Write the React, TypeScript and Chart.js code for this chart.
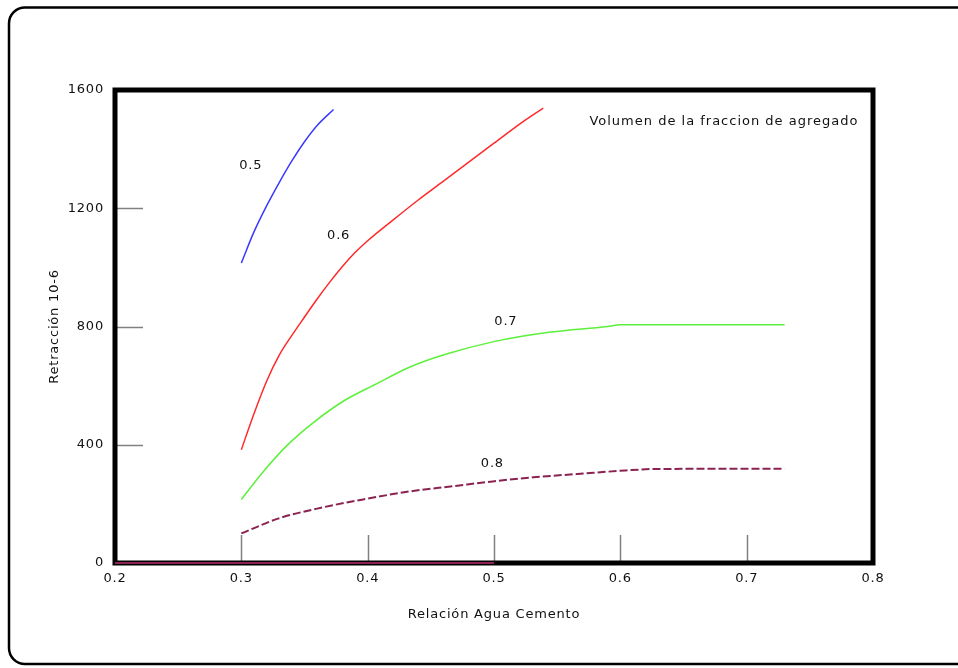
import React, { useEffect, useRef } from "react";
import { Chart, registerables } from "chart.js";

Chart.register(...registerables);

// ---- data ----
const xTicksMin = 0.2;
const xTicksMax = 0.8;
const yTicksMin = 0;
const yTicksMax = 1600;

const x05 = [0.3, 0.31, 0.32, 0.33, 0.34, 0.35, 0.36, 0.373];
const y05 = [1015, 1120, 1208, 1287, 1360, 1425, 1480, 1534];

const x06 = [0.3, 0.31, 0.32, 0.33, 0.34, 0.35, 0.36, 0.37, 0.38, 0.39, 0.4, 0.42, 0.44, 0.46, 0.48, 0.5, 0.52, 0.539];
const y06 = [383, 505, 615, 703, 770, 832, 893, 950, 1003, 1050, 1090, 1160, 1228, 1292, 1356, 1420, 1484, 1539];

const x07 = [0.3, 0.317, 0.336, 0.357, 0.381, 0.406, 0.433, 0.461, 0.499, 0.545, 0.59, 0.6, 0.73];
const y07 = [215, 307, 397, 475, 548, 604, 662, 705, 748, 781, 800, 806, 806];

const x08 = [0.3, 0.329, 0.36, 0.399, 0.433, 0.468, 0.499, 0.531, 0.566, 0.604, 0.628, 0.73];
const y08 = [100, 150, 184, 217, 242, 260, 276, 290, 301, 313, 318, 319];

const xBase = [0.2, 0.5];
const yBase = [0, 0];

const curveLabels = ["0.5", "0.6", "0.7", "0.8"];
const curveLabelX = [0.3074, 0.377, 0.5094, 0.4987];
const curveLabelY = [1344, 1108, 815, 335];

const noteText = "Volumen de la fraccion de agregado";
const noteX = 0.682;
const noteY = 1492;

const xTitle = "Relación Agua Cemento";
const yTitle = "Retracción 10-6";

const innerTicksX = [0.3, 0.4, 0.5, 0.6, 0.7];
const innerTicksY = [400, 800, 1200];

const pts = (xs: number[], ys: number[]) => xs.map((x, i) => ({ x, y: ys[i] }));

const FONT = "'DejaVu Sans', sans-serif";
const TEXT = "#111";

const framePlugin = {
  id: "frame",
  beforeDraw(chart: any) {
    const ctx = chart.ctx;
    ctx.letterSpacing = "0.8px";
    ctx.save();
    ctx.strokeStyle = "#000";
    ctx.lineWidth = 2.5;
    const x0 = 9, y0 = 7.5, x1 = 972, y1 = 664, r = 16;
    ctx.beginPath();
    ctx.moveTo(x0 + r, y0);
    ctx.lineTo(x1 - r, y0);
    ctx.arcTo(x1, y0, x1, y0 + r, r);
    ctx.lineTo(x1, y1 - r);
    ctx.arcTo(x1, y1, x1 - r, y1, r);
    ctx.lineTo(x0 + r, y1);
    ctx.arcTo(x0, y1, x0, y1 - r, r);
    ctx.lineTo(x0, y0 + r);
    ctx.arcTo(x0, y0, x0 + r, y0, r);
    ctx.closePath();
    ctx.stroke();
    ctx.restore();
  },
  beforeDatasetsDraw(chart: any) {
    const ctx = chart.ctx;
    const { left, right, top, bottom } = chart.chartArea;
    const xs = chart.scales.x;
    const ys = chart.scales.y;
    ctx.save();
    ctx.strokeStyle = "#808080";
    ctx.lineWidth = 1.5;
    innerTicksX.forEach((v) => {
      const px = Math.round(xs.getPixelForValue(v)) + 0.5;
      ctx.beginPath();
      ctx.moveTo(px, bottom);
      ctx.lineTo(px, bottom - 28);
      ctx.stroke();
    });
    innerTicksY.forEach((v) => {
      const py = Math.round(ys.getPixelForValue(v)) + 0.5;
      ctx.beginPath();
      ctx.moveTo(left, py);
      ctx.lineTo(left + 28, py);
      ctx.stroke();
    });
    ctx.strokeStyle = "#000";
    ctx.lineWidth = 5;
    ctx.strokeRect(left, top, right - left, bottom - top);
    ctx.restore();
  },
  afterDatasetsDraw(chart: any) {
    const ctx = chart.ctx;
    const xs = chart.scales.x;
    const ys = chart.scales.y;
    ctx.save();
    ctx.letterSpacing = "0.8px";
    ctx.fillStyle = TEXT;
    ctx.font = `13px ${FONT}`;
    ctx.textAlign = "center";
    ctx.textBaseline = "middle";
    curveLabels.forEach((t, i) => {
      ctx.fillText(t, xs.getPixelForValue(curveLabelX[i]), ys.getPixelForValue(curveLabelY[i]));
    });
    ctx.letterSpacing = "1px";
    ctx.fillText(noteText, xs.getPixelForValue(noteX), ys.getPixelForValue(noteY));
    ctx.restore();
  },
};

export default function App() {
  const ref = useRef<HTMLCanvasElement>(null);
  useEffect(() => {
    const canvas = ref.current!;
    const chart = new Chart(canvas, {
      type: "line",
      data: {
        datasets: [
          {
            label: "0.5",
            data: pts(x05, y05),
            borderColor: "#3a3aff",
            borderWidth: 1.5,
            pointRadius: 0,
            cubicInterpolationMode: "monotone",
          },
          {
            label: "0.6",
            data: pts(x06, y06),
            borderColor: "#ff2a2a",
            borderWidth: 1.5,
            pointRadius: 0,
            cubicInterpolationMode: "monotone",
          },
          {
            label: "0.7",
            data: pts(x07, y07),
            borderColor: "#5cf03a",
            borderWidth: 1.5,
            pointRadius: 0,
            cubicInterpolationMode: "monotone",
          },
          {
            label: "0.8",
            data: pts(x08, y08),
            borderColor: "#8b2252",
            borderWidth: 2,
            borderDash: [8, 3],
            pointRadius: 0,
            cubicInterpolationMode: "monotone",
          },
          {
            label: "base",
            data: pts(xBase, yBase),
            borderColor: "#8b2252",
            borderWidth: 2,
            pointRadius: 0,
            clip: false as any,
          },
        ],
      },
      options: {
        animation: false,
        responsive: false,
        devicePixelRatio: 1,
        layout: { padding: { left: 0, right: 85, top: 90, bottom: 0 } },
        plugins: {
          legend: { display: false },
          tooltip: { enabled: false },
        },
        scales: {
          x: {
            type: "linear",
            min: xTicksMin,
            max: xTicksMax,
            grid: { display: false, drawTicks: false },
            border: { display: false },
            ticks: {
              stepSize: 0.1,
              padding: 8,
              color: TEXT,
              font: { family: FONT, size: 13 },
              maxRotation: 0,
              callback: (v: any) => Number(v).toFixed(1),
            },
            title: {
              display: true,
              text: xTitle,
              color: TEXT,
              font: { family: FONT, size: 13 },
              padding: { top: 0, bottom: 46 },
            },
            afterFit: (s: any) => {
              s.height = 105;
            },
          },
          y: {
            type: "linear",
            min: yTicksMin,
            max: yTicksMax,
            grid: { display: false, drawTicks: false },
            border: { display: false },
            ticks: {
              stepSize: 400,
              padding: 11,
              color: TEXT,
              font: { family: FONT, size: 13 },
              callback: (v: any) => String(v),
            },
            title: {
              display: true,
              text: yTitle,
              color: TEXT,
              font: { family: FONT, size: 13 },
              padding: { top: 47, bottom: 0 },
            },
            afterFit: (s: any) => {
              s.width = 115;
            },
          },
        },
      },
      plugins: [framePlugin],
    } as any);
    return () => chart.destroy();
  }, []);
  return (
    <div style={{ position: "fixed", left: 0, top: 0, width: 958, height: 668, background: "#fff", overflow: "hidden" }}>
      <canvas ref={ref} width={958} height={668} style={{ display: "block", width: 958, height: 668 }} />
    </div>
  );
}
